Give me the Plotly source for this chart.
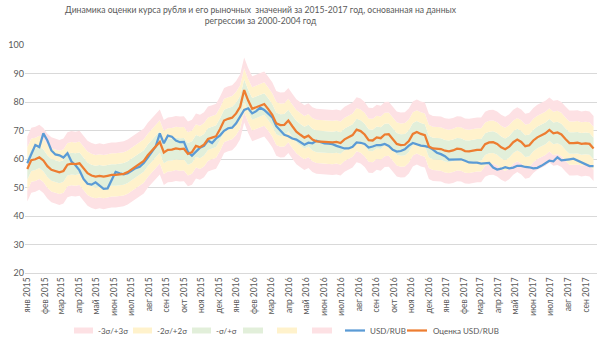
import pandas as pd
import plotly.graph_objects as go

# weekly observations starting 2015-01-01
dates = pd.date_range("2015-01-01", periods=142, freq="7D")

usd_rub = [
    58.5, 62.0, 64.9, 64.2, 69.0, 66.5, 63.0, 61.6, 61.3, 60.5,
    62.0, 59.1, 57.8, 56.0, 53.0, 51.3, 51.0, 51.8, 50.6, 49.5,
    49.7, 52.6, 55.5, 55.0, 54.6, 55.0, 56.0, 56.8, 57.3, 58.6,
    60.5, 62.5, 64.5, 69.0, 65.5, 68.2, 67.8, 66.5, 65.9, 66.0,
    62.5, 61.2, 62.5, 64.0, 64.6, 66.5, 65.6, 67.2, 68.3, 69.9,
    70.8, 71.0, 72.5, 75.0, 77.2, 77.8, 76.0, 76.8, 78.0, 77.2,
    75.8, 74.6, 71.5, 69.8, 68.5, 68.0, 67.2, 66.8, 65.8, 65.0,
    65.7, 65.5, 66.4, 66.0, 65.5, 65.4, 65.2, 64.6, 64.1, 63.7,
    63.7, 64.3, 65.8, 65.7, 65.3, 64.0, 64.4, 64.9, 64.9, 65.3,
    64.6, 63.2, 62.6, 62.8, 63.4, 64.7, 65.6, 65.1, 64.7, 64.5,
    64.2, 63.3, 62.2, 61.7, 61.0, 59.8, 59.8, 59.9, 59.9, 59.4,
    58.8, 58.7, 58.7, 58.4, 58.6, 58.6, 57.0, 56.3, 56.6, 57.1,
    56.7, 57.0, 57.6, 57.6, 57.2, 57.1, 56.7, 56.9, 57.6, 58.6,
    59.4, 59.2, 60.6, 59.5, 59.6, 59.9, 60.1, 59.4, 58.9, 58.0,
    57.5, 57.5,
]

estimate = [
    56.5, 59.6, 59.9, 60.6, 59.5, 57.5, 56.2, 55.8, 55.3, 55.8,
    58.0, 58.4, 58.2, 58.5, 56.6, 55.0, 54.2, 53.8, 54.1, 53.8,
    54.1, 54.4, 54.4, 54.6, 54.8, 55.4, 56.3, 57.2, 58.1, 59.3,
    61.3, 62.8, 64.5, 66.0, 62.3, 63.2, 63.3, 63.7, 63.5, 63.6,
    61.8, 62.4, 64.6, 64.1, 65.0, 67.0, 67.5, 68.0, 70.5, 73.5,
    74.1, 74.5, 76.0, 78.3, 84.2, 80.5, 77.6, 78.2, 78.9, 79.3,
    77.5, 75.5, 72.5, 71.9, 72.0, 73.5, 71.5, 69.6, 68.5, 67.5,
    68.2, 66.8, 66.2, 66.1, 66.1, 65.9, 65.8, 66.0, 65.6, 66.9,
    67.8, 68.4, 70.3, 69.8, 68.6, 66.6, 66.5, 67.6, 67.3, 68.6,
    68.7, 67.0, 65.3, 64.9, 65.0, 66.3, 68.8, 69.5, 68.8, 68.4,
    64.4, 63.7, 63.7, 63.5, 62.9, 62.7, 63.0, 63.6, 63.5, 62.8,
    62.7, 63.0, 63.2, 63.2, 65.2, 65.8, 65.9, 65.3, 64.1, 63.4,
    64.3, 65.9, 66.8, 66.0, 64.5, 64.8, 66.5, 67.6, 68.2, 69.0,
    70.2, 69.0, 69.3, 68.6, 67.0, 65.6, 65.6, 65.7, 65.3, 65.5,
    65.3, 63.7,
]

sigma = 3.8  # standard deviation of the regression estimate

month_names = ["янв", "фев", "мар", "апр", "май", "июн",
               "июл", "авг", "сен", "окт", "ноя", "дек"]
tick_dates = pd.date_range("2015-01-01", "2017-09-01", freq="MS")
tick_text = [f"{month_names[d.month - 1]} {d.year}" for d in tick_dates]

band_names = ["-3σ/+3σ", "-2σ/+2σ", "-σ/+σ", "", "", ""]
PINK = "rgb(253,225,228)"
YELLOW = "rgb(255,242,204)"
GREEN = "rgb(226,239,218)"
BLUE = "#5B9BD5"
ORANGE = "#ED7D31"
band_colors = [PINK, YELLOW, GREEN, GREEN, YELLOW, PINK]
band_levels = [-3, -2, -1, 0, 1, 2, 3]

fig = go.Figure()

bounds = [[e + k * sigma for e in estimate] for k in band_levels]

fig.add_trace(go.Scatter(x=dates, y=bounds[0], mode="lines",
                         line=dict(width=0, color=PINK), showlegend=False,
                         hoverinfo="skip"))
for i in range(6):
    fig.add_trace(go.Scatter(
        x=dates, y=bounds[i + 1], mode="lines", fill="tonexty",
        fillcolor=band_colors[i], line=dict(width=0, color=band_colors[i]),
        name=band_names[i], hoverinfo="skip", showlegend=False))

fig.add_trace(go.Scatter(x=dates, y=usd_rub, mode="lines", name="USD/RUB",
                         line=dict(color=BLUE, width=2.25), showlegend=False))
fig.add_trace(go.Scatter(x=dates, y=estimate, mode="lines", name="Оценка USD/RUB",
                         line=dict(color=ORANGE, width=2.25), showlegend=False))

# ---- layout geometry (pixels) ----
W, H = 605, 344
L, R, T, B = 25, 8, 45, 71
PW, PH = W - L - R, H - T - B


def px(xp):
    return (xp - L) / PW


def py(yp):
    return (H - B - yp) / PH


# ---- custom legend matching the reference layout ----
legend_items = [
    ("rect", PINK, band_names[0], 74, 93, 96),
    ("rect", YELLOW, band_names[1], 133, 152, 155),
    ("rect", GREEN, band_names[2], 192, 211, 214),
    ("rect", GREEN, band_names[3], 243, 263, None),
    ("rect", YELLOW, band_names[4], 277, 297, None),
    ("rect", PINK, band_names[5], 312, 332, None),
    ("line", BLUE, "USD/RUB", 345, 365, 368),
    ("line", ORANGE, "Оценка USD/RUB", 407, 427, 431),
]
ly = 330.5
shapes = []
annotations = []
for kind, col, label, x0, x1, tx in legend_items:
    if kind == "rect":
        shapes.append(dict(type="rect", xref="paper", yref="paper",
                           x0=px(x0), x1=px(x1), y0=py(ly + 3), y1=py(ly - 3),
                           fillcolor=col, line=dict(width=0)))
    else:
        shapes.append(dict(type="line", xref="paper", yref="paper",
                           x0=px(x0), x1=px(x1), y0=py(ly), y1=py(ly),
                           line=dict(color=col, width=2.25)))
    if tx is not None and label:
        annotations.append(dict(text=label, xref="paper", yref="paper",
                                x=px(tx), y=py(ly), xanchor="left", yanchor="middle",
                                showarrow=False,
                                font=dict(size=8, color="#595959")))

# title as two centred lines
annotations.append(dict(
    text="Динамика оценки курса рубля и его рыночных  значений за 2015-2017 год, основанная на данных<br>регрессии за 2000-2004 год",
    xref="paper", yref="paper", x=px(261), y=py(3), xanchor="center", yanchor="top",
    showarrow=False, align="center",
    font=dict(size=8.6, color="#595959")))

fig.update_layout(
    width=W, height=H,
    margin=dict(l=L, r=R, t=T, b=B),
    paper_bgcolor="white", plot_bgcolor="white",
    font=dict(family="Lato, 'Open Sans', sans-serif", color="#595959", size=9),
    showlegend=False,
    shapes=shapes,
    annotations=annotations,
)

fig.update_xaxes(
    type="date", range=["2014-12-28", "2017-09-20"],
    tickmode="array", tickvals=tick_dates, ticktext=tick_text,
    tickangle=-90, showgrid=False, zeroline=False,
    showline=True, linecolor="#D9D9D9", ticks="",
    tickfont=dict(size=8.5, color="#595959"),
)
fig.update_yaxes(
    range=[20, 100], dtick=10, showgrid=True, gridcolor="#D9D9D9",
    zeroline=False, showline=False, ticks="",
    tickfont=dict(size=9, color="#595959"),
)

fig.write_html("out.html")
